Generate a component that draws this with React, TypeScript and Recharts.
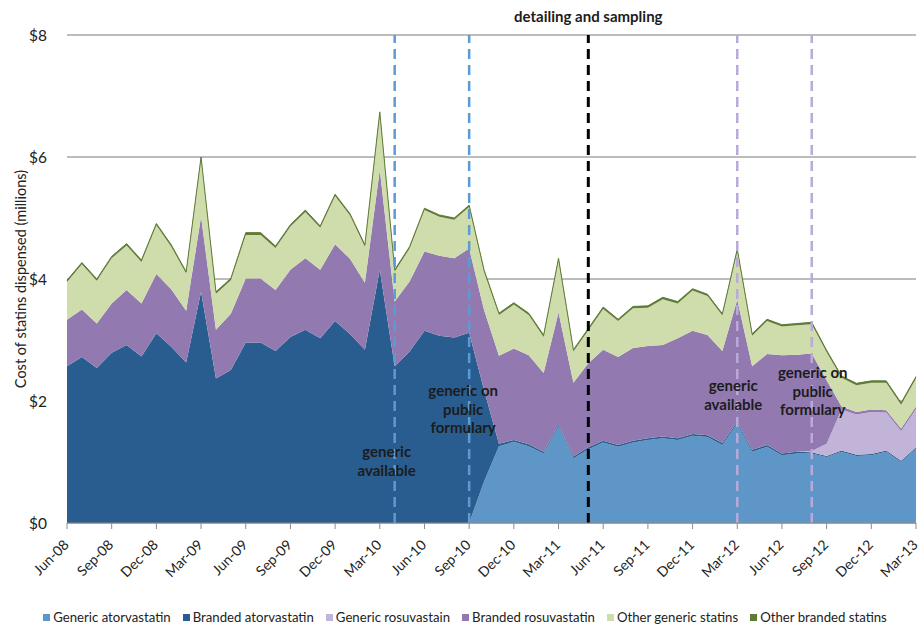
import React from 'react';
import {
  AreaChart,
  Area,
  XAxis,
  YAxis,
  CartesianGrid,
  ReferenceLine,
  Legend,
  Label,
} from 'recharts';

const months = [
  'Jun-08', 'Jul-08', 'Aug-08', 'Sep-08', 'Oct-08', 'Nov-08', 'Dec-08',
  'Jan-09', 'Feb-09', 'Mar-09', 'Apr-09', 'May-09', 'Jun-09', 'Jul-09', 'Aug-09', 'Sep-09', 'Oct-09', 'Nov-09', 'Dec-09',
  'Jan-10', 'Feb-10', 'Mar-10', 'Apr-10', 'May-10', 'Jun-10', 'Jul-10', 'Aug-10', 'Sep-10', 'Oct-10', 'Nov-10', 'Dec-10',
  'Jan-11', 'Feb-11', 'Mar-11', 'Apr-11', 'May-11', 'Jun-11', 'Jul-11', 'Aug-11', 'Sep-11', 'Oct-11', 'Nov-11', 'Dec-11',
  'Jan-12', 'Feb-12', 'Mar-12', 'Apr-12', 'May-12', 'Jun-12', 'Jul-12', 'Aug-12', 'Sep-12', 'Oct-12', 'Nov-12', 'Dec-12',
  'Jan-13', 'Feb-13', 'Mar-13',
];

// $ millions per month
const genericAtorvastatin = [
  0, 0, 0, 0, 0, 0, 0, 0, 0, 0, 0, 0, 0, 0, 0, 0, 0, 0, 0, 0,
  0, 0, 0, 0, 0, 0, 0, 0, 0.68, 1.26, 1.33, 1.26, 1.14, 1.58, 1.06, 1.21, 1.32, 1.25, 1.32, 1.36,
  1.39, 1.36, 1.43, 1.41, 1.28, 1.63, 1.17, 1.25, 1.11, 1.14, 1.14, 1.08, 1.17, 1.1, 1.11, 1.17, 1.0, 1.22,
];
const brandedAtorvastatin = [
  2.57, 2.72, 2.54, 2.79, 2.92, 2.73, 3.11, 2.89, 2.63, 3.79, 2.37, 2.51, 2.96, 2.96, 2.82, 3.05, 3.17, 3.03, 3.31, 3.1,
  2.84, 4.15, 2.57, 2.81, 3.15, 3.07, 3.04, 3.12, 1.5, 0.04, 0.03, 0.03, 0.03, 0.03, 0.03, 0.03, 0.03, 0.03, 0.03, 0.03,
  0.03, 0.03, 0.03, 0.03, 0.03, 0.03, 0.03, 0.03, 0.03, 0.03, 0.02, 0.02, 0.02, 0.02, 0.02, 0.02, 0.02, 0.02,
];
const genericRosuvastatin = [
  0, 0, 0, 0, 0, 0, 0, 0, 0, 0, 0, 0, 0, 0, 0, 0, 0, 0, 0, 0,
  0, 0, 0, 0, 0, 0, 0, 0, 0, 0, 0, 0, 0, 0, 0, 0, 0, 0, 0, 0,
  0, 0, 0, 0, 0, 0, 0, 0, 0, 0, 0.02, 0.2, 0.67, 0.66, 0.69, 0.62, 0.49, 0.63,
];
const brandedRosuvastatin = [
  0.76, 0.78, 0.73, 0.81, 0.9, 0.87, 0.97, 0.94, 0.85, 1.23, 0.8, 0.92, 1.05, 1.05, 1.0, 1.1, 1.17, 1.12, 1.26, 1.23,
  1.1, 1.64, 1.06, 1.15, 1.3, 1.31, 1.3, 1.38, 1.31, 1.44, 1.5, 1.46, 1.29, 1.84, 1.21, 1.38, 1.49, 1.44, 1.52, 1.51,
  1.5, 1.64, 1.69, 1.64, 1.51, 2.0, 1.37, 1.49, 1.61, 1.59, 1.6, 1.04, 0.05, 0.04, 0.04, 0.04, 0.04, 0.04,
];
const otherGeneric = [
  0.62, 0.74, 0.7, 0.74, 0.73, 0.68, 0.8, 0.7, 0.61, 0.95, 0.59, 0.55, 0.71, 0.71, 0.69, 0.71, 0.76, 0.69, 0.79, 0.71,
  0.59, 0.92, 0.49, 0.54, 0.68, 0.64, 0.63, 0.68, 0.63, 0.67, 0.72, 0.66, 0.59, 0.86, 0.51, 0.54, 0.67, 0.59, 0.65, 0.63,
  0.75, 0.57, 0.66, 0.64, 0.58, 0.8, 0.5, 0.54, 0.47, 0.48, 0.48, 0.46, 0.47, 0.44, 0.44, 0.45, 0.39, 0.46,
];
const otherBranded = [
  0.03, 0.03, 0.03, 0.03, 0.03, 0.03, 0.03, 0.03, 0.03, 0.03, 0.03, 0.03, 0.04, 0.04, 0.03, 0.03, 0.03, 0.03, 0.03, 0.03,
  0.03, 0.03, 0.03, 0.03, 0.03, 0.03, 0.03, 0.03, 0.03, 0.03, 0.03, 0.03, 0.03, 0.03, 0.03, 0.03, 0.03, 0.03, 0.03, 0.03,
  0.03, 0.03, 0.03, 0.03, 0.03, 0.03, 0.03, 0.03, 0.03, 0.03, 0.03, 0.03, 0.03, 0.03, 0.03, 0.03, 0.03, 0.03,
];

const yTicks = [0, 2, 4, 6, 8];

const series = [
  { key: 'genericAtorvastatin', name: 'Generic atorvastatin', color: '#5e96c8' },
  { key: 'brandedAtorvastatin', name: 'Branded atorvastatin', color: '#2a5d8f' },
  { key: 'genericRosuvastatin', name: 'Generic rosuvastain', color: '#c2b4d8' },
  { key: 'brandedRosuvastatin', name: 'Branded rosuvastatin', color: '#927ab1' },
  { key: 'otherGeneric', name: 'Other generic statins', color: '#cfdcac' },
  { key: 'otherBranded', name: 'Other branded statins', color: '#5f7b34' },
];

const data = months.map((month, i) => ({
  month,
  genericAtorvastatin: genericAtorvastatin[i],
  brandedAtorvastatin: brandedAtorvastatin[i],
  genericRosuvastatin: genericRosuvastatin[i],
  brandedRosuvastatin: brandedRosuvastatin[i],
  otherGeneric: otherGeneric[i],
  otherBranded: otherBranded[i],
}));

const FONT = 'Lato, "Open Sans", sans-serif';

function XTick({ x, y, payload }: any) {
  return (
    <g transform={`translate(${x - 3},${y + 9})`}>
      <text x={0} y={0} dy={8} textAnchor="end" transform="rotate(-45)" fill="#222" fontSize={14} fontFamily={FONT}>
        {payload.value}
      </text>
    </g>
  );
}

// multi-line annotation next to a reference line
function note(lines: string[], dx: number, top: number) {
  return (props: any) => {
    const vb = props.viewBox || {};
    const cx = (vb.x ?? 0) + dx;
    return (
      <text x={cx} y={top} textAnchor="middle" fontSize={15} fontWeight={700} fill="#1c1c1c" fontFamily={FONT}>
        {lines.map((l, i) => (
          <tspan key={i} x={cx} dy={i === 0 ? 0 : 18.5}>
            {l}
          </tspan>
        ))}
      </text>
    );
  };
}

function LegendContent() {
  return (
    <div style={{ display: 'flex', justifyContent: 'center', gap: 12, fontFamily: FONT, fontSize: 13.2, color: '#222', paddingLeft: 14 }}>
      {series.map((s) => (
        <span key={s.key} style={{ display: 'flex', alignItems: 'center', gap: 3 }}>
          <span style={{ width: 7, height: 7, background: s.color, display: 'inline-block' }} />
          {s.name}
        </span>
      ))}
    </div>
  );
}

export default function App() {
  return (
    <div style={{ position: 'absolute', left: 0, top: 0, width: 921, height: 625, background: '#fff' }}>
      <AreaChart width={921} height={625} data={data} margin={{ top: 35, right: 5, left: 0, bottom: 0 }}>
        <CartesianGrid vertical={false} stroke="#a6a6a6" strokeWidth={1.3} />
        <XAxis
          dataKey="month"
          interval={2}
          tick={<XTick />}
          tickLine={{ stroke: '#8c8c8c' }}
          tickSize={6}
          axisLine={{ stroke: '#8c8c8c' }}
          height={86}
        />
        <YAxis
          domain={[0, 8]}
          ticks={yTicks}
          width={67}
          axisLine={false}
          tickLine={false}
          tickMargin={14}
          tickFormatter={(v) => `$${v}`}
          tick={{ fill: '#222', fontSize: 15.5, fontFamily: FONT }}
        >
          <Label
            value="Cost of statins dispensed (millions)"
            angle={-90}
            position="insideLeft"
            offset={21}
            style={{ textAnchor: 'middle', fill: '#222', fontSize: 14.5, fontFamily: FONT }}
          />
        </YAxis>
        {series.map((s) => (
          <Area
            key={s.key}
            type="linear"
            dataKey={s.key}
            name={s.name}
            stackId="1"
            fill={s.color}
            fillOpacity={1}
            stroke={s.key === 'otherBranded' ? s.color : 'none'}
            strokeWidth={1}
            isAnimationActive={false}
          />
        ))}
        <ReferenceLine x="Apr-10" stroke="#5b9bd5" strokeWidth={2.5} strokeDasharray="10 6">
          <Label content={note(['generic', 'available'], -8, 457)} />
        </ReferenceLine>
        <ReferenceLine x="Sep-10" stroke="#5b9bd5" strokeWidth={2.5} strokeDasharray="10 6">
          <Label content={note(['generic on', 'public', 'formulary'], -6, 396)} />
        </ReferenceLine>
        <ReferenceLine x="May-11" stroke="#000" strokeWidth={3} strokeDasharray="10 6">
          <Label content={note(['detailing and sampling'], 0, 22)} />
        </ReferenceLine>
        <ReferenceLine x="Mar-12" stroke="#b9aad8" strokeWidth={2.5} strokeDasharray="10 6">
          <Label content={note(['generic', 'available'], -4, 391)} />
        </ReferenceLine>
        <ReferenceLine x="Aug-12" stroke="#b9aad8" strokeWidth={2.5} strokeDasharray="10 6">
          <Label content={note(['generic on', 'public', 'formulary'], 1, 378)} />
        </ReferenceLine>
        <Legend verticalAlign="bottom" content={<LegendContent />} />
      </AreaChart>
    </div>
  );
}
